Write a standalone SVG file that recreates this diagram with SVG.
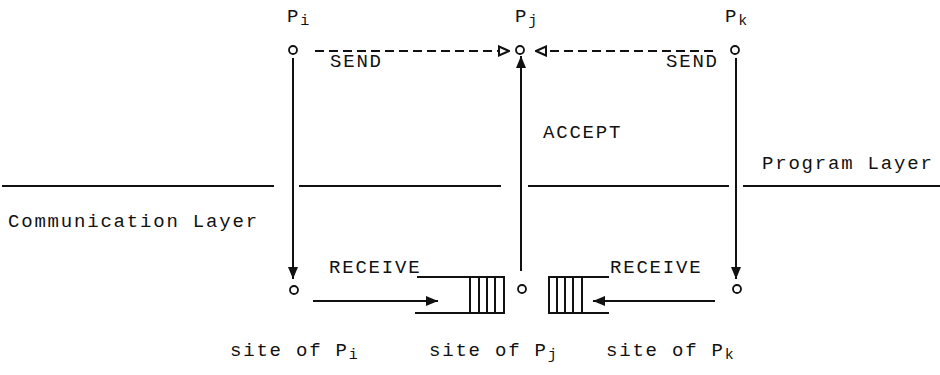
<svg xmlns="http://www.w3.org/2000/svg" width="940" height="375" viewBox="0 0 940 375">
<style>
  text{font-family:"Liberation Mono","Courier New",monospace;font-size:19px;letter-spacing:1.8px;fill:#111}
  .sub{font-size:15px;letter-spacing:0}
  .ln{stroke:#111;stroke-width:2;fill:none}
  .dash{stroke:#111;stroke-width:2;fill:none;stroke-dasharray:9 5}
  .node{fill:#fff;stroke:#111;stroke-width:1.8}
  .layer{stroke:#111;stroke-width:1.8}
</style>
<defs>
  <marker id="solid" viewBox="0 0 12 10" refX="12" refY="5" markerWidth="12" markerHeight="10" markerUnits="userSpaceOnUse" orient="auto">
    <path d="M0,0 L12,5 L0,10 Z" fill="#111"/>
  </marker>
  <marker id="open" viewBox="0 0 12 12" refX="11" refY="6" markerWidth="12" markerHeight="12" markerUnits="userSpaceOnUse" orient="auto">
    <path d="M1,1.5 L11,6 L1,10.5 Z" fill="#fff" stroke="#111" stroke-width="2"/>
  </marker>
</defs>

<g id="layers">
  <line class="layer" x1="2" y1="186" x2="274" y2="186"/>
  <line class="layer" x1="299" y1="186" x2="501" y2="186"/>
  <line class="layer" x1="528" y1="186" x2="729" y2="186"/>
  <line class="layer" x1="743" y1="186" x2="940" y2="186"/>
  <text x="8" y="227">Communication Layer</text>
  <text x="762" y="169">Program Layer</text>
</g>

<g id="connectors">
  <line class="dash" x1="315" y1="51" x2="509" y2="51" marker-end="url(#open)"/>
  <line class="dash" x1="713" y1="51" x2="536" y2="51" marker-end="url(#open)"/>
  <line class="ln" x1="293" y1="58" x2="293" y2="279" marker-end="url(#solid)"/>
  <line class="ln" x1="736" y1="58" x2="736" y2="279" marker-end="url(#solid)"/>
  <line class="ln" x1="521" y1="271" x2="521" y2="56" marker-end="url(#solid)"/>
  <line class="ln" x1="313" y1="301" x2="438" y2="301" marker-end="url(#solid)"/>
  <line class="ln" x1="715" y1="301" x2="593" y2="301" marker-end="url(#solid)"/>
  <text x="330" y="67">SEND</text>
  <text x="666" y="67">SEND</text>
  <text x="543" y="138">ACCEPT</text>
  <text x="329" y="273">RECEIVE</text>
  <text x="610" y="273">RECEIVE</text>
</g>

<g id="Pi">
  <text x="287" y="22">P<tspan class="sub" dy="3">i</tspan></text>
  <circle class="node" cx="293" cy="50" r="4"/>
  <circle class="node" cx="294" cy="290" r="4"/>
  <text x="230" y="356">site of P<tspan class="sub" dy="3">i</tspan></text>
</g>

<g id="Pj">
  <text x="515" y="22">P<tspan class="sub" dy="3">j</tspan></text>
  <circle class="node" cx="520" cy="50" r="4"/>
  <circle class="node" cx="522" cy="289" r="4"/>
  <text x="429" y="356">site of P<tspan class="sub" dy="3">j</tspan></text>
</g>

<g id="Pk">
  <text x="725" y="22">P<tspan class="sub" dy="3">k</tspan></text>
  <circle class="node" cx="735" cy="50" r="4"/>
  <circle class="node" cx="737" cy="289" r="4"/>
  <text x="606" y="356">site of P<tspan class="sub" dy="3">k</tspan></text>
</g>

<g id="queue-left">
  <path class="ln" d="M417,277 H504 V313 H415"/>
  <path class="ln" d="M470,277 V313 M479,277 V313 M487,277 V313 M495,277 V313"/>
</g>

<g id="queue-right">
  <path class="ln" d="M609,277 H549 V313 H609"/>
  <path class="ln" d="M557,277 V313 M565,277 V313 M573,277 V313 M582,277 V313"/>
</g>
</svg>
